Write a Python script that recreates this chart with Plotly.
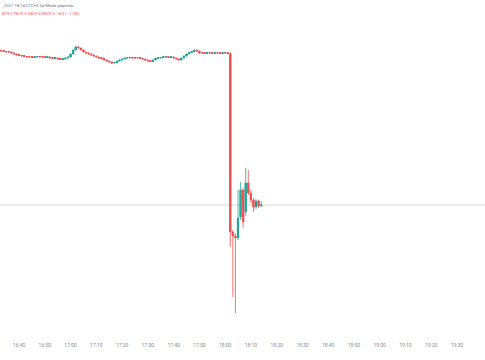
import plotly.graph_objects as go
import pandas as pd

# 1-minute bars, 16:33 -> 18:14 (2021)
start_time = "2021-05-19 16:33"
opens = [984.0, 983.5, 983.0, 982.5, 982.5, 981.5, 980.5, 979.5, 979.0, 978.5,
         978.0, 977.5, 977.5, 977.0, 977.5, 978.0, 977.5, 977.5, 977.0, 977.5,
         976.5, 976.0, 976.5, 975.5, 975.0, 975.5, 976.5, 977.5, 980.5, 984.5,
         987.5, 986.5, 984.5, 982.5, 981.5, 980.5, 979.5, 978.5, 977.5, 976.5,
         976.0, 974.5, 973.5, 972.5, 971.5, 972.0, 973.5, 974.5, 975.5, 976.5,
         976.5, 977.0, 976.5, 976.5, 976.5, 976.0, 975.5, 974.5, 973.5, 973.0,
         974.5, 976.0, 976.5, 977.0, 977.5, 977.5, 977.0, 977.5, 976.5, 975.5,
         974.5, 976.5, 978.5, 980.5, 982.0, 983.0, 984.5, 983.5, 981.5, 981.5,
         981.0, 981.5, 981.5, 981.0, 981.5, 981.5, 981.0, 981.5, 981.5,
         981.0, 802.5, 798.5, 796.5, 817.5, 844.5, 822.5, 851.5, 841.5, 834.5,
         827.5, 833.5, 828.5]
highs = [984.5, 984.0, 983.5, 983.0, 983.0, 982.0, 981.0, 980.0, 979.5, 979.0,
         978.5, 978.0, 978.0, 978.0, 978.5, 978.5, 978.0, 978.0, 978.0, 978.0,
         977.0, 977.0, 977.0, 976.0, 976.0, 977.0, 978.0, 981.0, 985.5, 989.0,
         988.5, 987.0, 985.0, 983.0, 982.0, 981.0, 980.0, 979.0, 978.0, 977.0,
         976.5, 975.0, 974.0, 973.0, 972.5, 974.0, 975.0, 976.0, 977.0, 977.0,
         977.5, 977.5, 977.0, 977.0, 977.0, 976.5, 976.0, 975.0, 974.0, 975.0,
         976.5, 977.0, 977.5, 978.0, 978.0, 978.0, 978.0, 978.0, 977.0, 976.0,
         977.0, 979.0, 981.0, 982.5, 983.5, 985.0, 985.0, 984.0, 982.0, 982.0,
         982.0, 982.0, 982.0, 982.0, 982.0, 982.0, 982.0, 982.0, 982.0,
         982.0, 804.5, 801.0, 844.5, 852.5, 846.5, 866.5, 864.5, 844.5, 836.5,
         835.5, 834.5, 833.5]
lows = [983.0, 982.5, 982.0, 982.0, 981.0, 980.0, 979.0, 978.5, 978.0, 977.5,
        977.0, 977.0, 976.5, 976.5, 977.0, 977.0, 977.0, 976.5, 976.5, 976.0,
        975.5, 975.5, 975.0, 974.5, 974.5, 975.0, 976.0, 977.0, 980.0, 984.0,
        986.0, 984.0, 982.0, 981.0, 980.0, 979.0, 978.0, 977.0, 976.0, 975.5,
        974.0, 973.0, 972.0, 970.5, 971.0, 971.5, 973.0, 974.0, 975.0, 976.0,
        976.0, 976.0, 976.0, 976.0, 975.5, 975.0, 974.0, 973.0, 972.5, 972.5,
        974.0, 975.5, 976.0, 976.5, 977.0, 976.5, 976.5, 976.0, 975.0, 974.0,
        974.0, 976.0, 978.0, 980.0, 981.5, 982.5, 983.0, 981.0, 981.0, 980.5,
        980.5, 981.0, 980.5, 980.5, 981.0, 980.5, 980.5, 981.0, 980.5,
        787.5, 737.5, 721.5, 794.5, 814.5, 806.5, 818.5, 839.5, 831.5, 822.5,
        825.5, 826.5, 827.5]
closes = [983.5, 983.0, 982.5, 982.5, 981.5, 980.5, 979.5, 979.0, 978.5, 978.0,
          977.5, 977.5, 977.0, 977.5, 978.0, 977.5, 977.5, 977.0, 977.5, 976.5,
          976.0, 976.5, 975.5, 975.0, 975.5, 976.5, 977.5, 980.5, 984.5, 987.5,
          986.5, 984.5, 982.5, 981.5, 980.5, 979.5, 978.5, 977.5, 976.5, 976.0,
          974.5, 973.5, 972.5, 971.5, 972.0, 973.5, 974.5, 975.5, 976.5, 976.5,
          977.0, 976.5, 976.5, 976.5, 976.0, 975.5, 974.5, 973.5, 973.0, 974.5,
          976.0, 976.5, 977.0, 977.5, 977.5, 977.0, 977.5, 976.5, 975.5, 974.5,
          976.5, 978.5, 980.5, 982.0, 983.0, 984.5, 983.5, 981.5, 981.5, 981.0,
          981.5, 981.5, 981.0, 981.5, 981.5, 981.0, 981.5, 981.5, 981.0,
          802.5, 798.5, 797.0, 816.5, 844.5, 812.5, 851.5, 841.5, 834.5, 827.5,
          833.5, 828.5, 829.5]
last_price = 829.5

header_line1 = ", 2021 18:14 UTC+3 Sa/Moda yapımlar"
header_line2 = "829.5 Y829.5 D829.5 K829.5 −8.2 (−1.0%)"

assert len(opens) == len(highs) == len(lows) == len(closes)
times = pd.date_range(start_time, periods=len(closes), freq="1min")

up_color = "#26a69a"
down_color = "#ef5350"
candle_colors = [up_color if c > o else down_color for o, c in zip(opens, closes)]
body_base = [min(o, c) for o, c in zip(opens, closes)]
body_size = [max(abs(c - o), 0.9) for o, c in zip(opens, closes)]

fig = go.Figure()
# wicks (thin) via the library's candlestick
fig.add_trace(go.Candlestick(
    x=times, open=opens, high=highs, low=lows, close=closes,
    increasing=dict(line=dict(color=up_color, width=0.8), fillcolor=up_color),
    decreasing=dict(line=dict(color=down_color, width=0.8), fillcolor=down_color),
    whiskerwidth=0, hoverinfo="skip",
))
# bodies
fig.add_trace(go.Bar(
    x=times, y=body_size, base=body_base, width=48000,
    marker=dict(color=candle_colors, line=dict(width=0)),
    hoverinfo="skip",
))

fig.add_shape(type="line", xref="paper", x0=0, x1=1, yref="y",
              y0=last_price, y1=last_price, layer="below",
              line=dict(color="#d6d8de", width=1))

fig.add_annotation(text=header_line1, xref="paper", yref="paper", x=0, y=1,
                   xanchor="left", yanchor="top", showarrow=False, yshift=-1,
                   font=dict(family="Roboto", size=4.2, color="#6a6d78"))
fig.add_annotation(text=header_line2, xref="paper", yref="paper", x=0, y=1,
                   xanchor="left", yanchor="top", showarrow=False, yshift=-9,
                   font=dict(family="Roboto", size=4.2, color="#ef5350"))

fig.update_layout(
    width=485, height=360,
    margin=dict(l=0, r=0, t=0, b=25),
    paper_bgcolor="white", plot_bgcolor="white",
    showlegend=False, barmode="overlay",
    xaxis=dict(
        type="date",
        range=["2021-05-19 16:32:36", "2021-05-19 19:40:54"],
        rangeslider=dict(visible=False),
        showgrid=False, zeroline=False, showline=False,
        dtick=600000, tick0="2021-05-19 16:40", tickformat="%H:%M",
        ticks="", ticklabelstandoff=6,
        tickfont=dict(family="Roboto", size=5, color="#8a8d96"),
    ),
    yaxis=dict(
        range=[699.5, 1034.5],
        showgrid=False, zeroline=False, showline=False,
        showticklabels=False, ticks="",
    ),
)

fig.write_html("out.html")
